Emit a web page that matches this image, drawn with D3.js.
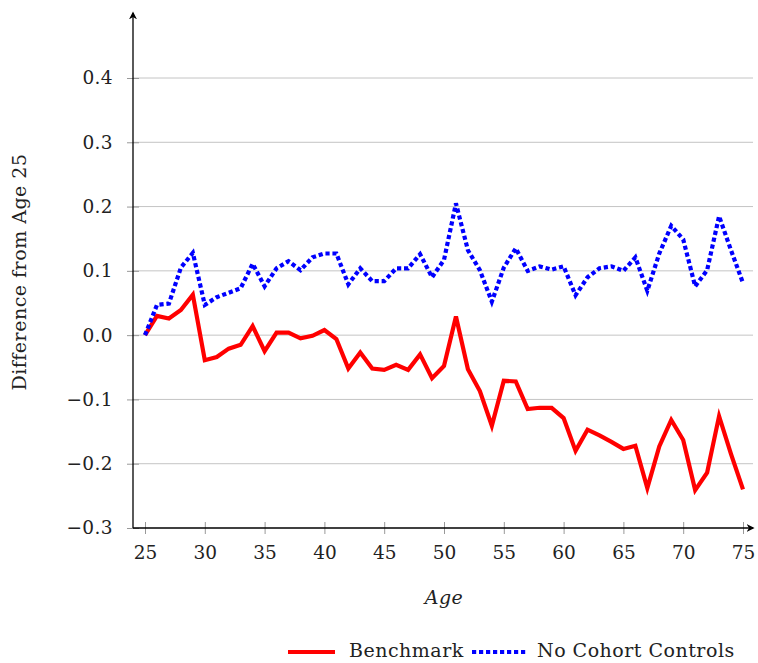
<!DOCTYPE html>
<html>
<head>
<meta charset="utf-8">
<script src="https://cdn.jsdelivr.net/npm/d3@7"></script>
<style>
  body { margin: 0; background: #fff; }
  text { font-family: "DejaVu Serif", serif; fill: #222; }
</style>
</head>
<body>
<svg></svg>
<script>
var ages = d3.range(25, 76);

var benchmark = [0.0, 0.03, 0.026, 0.039, 0.063, -0.039, -0.034, -0.021, -0.015, 0.014,
    -0.025, 0.004, 0.004, -0.005, -0.001, 0.008, -0.006, -0.052, -0.027, -0.052,
    -0.054, -0.046, -0.054, -0.03, -0.067, -0.048, 0.029, -0.053, -0.087, -0.141,
    -0.071, -0.072, -0.115, -0.113, -0.113, -0.129, -0.18, -0.147, -0.156, -0.166,
    -0.177, -0.172, -0.238, -0.173, -0.132, -0.163, -0.241, -0.214, -0.126, -0.185,
    -0.24];

var noCohort = [0.0, 0.047, 0.049, 0.105, 0.128, 0.047, 0.059, 0.066, 0.073, 0.111,
    0.076, 0.104, 0.115, 0.101, 0.121, 0.127, 0.127, 0.079, 0.104, 0.084,
    0.084, 0.104, 0.104, 0.126, 0.09, 0.117, 0.205, 0.132, 0.101, 0.052,
    0.105, 0.135, 0.1, 0.107, 0.102, 0.107, 0.062, 0.09, 0.104, 0.107,
    0.1, 0.121, 0.069, 0.127, 0.17, 0.149, 0.076, 0.101, 0.185, 0.132,
    0.081];

var xTicks = [25, 30, 35, 40, 45, 50, 55, 60, 65, 70, 75];
var yTicks = [-0.3, -0.2, -0.1, 0.0, 0.1, 0.2, 0.3, 0.4];

var screen = {width: 758, height: 663};
var axisLeft = 133, axisRight = 753, axisBottom = 528, axisTop = 13;

var svg = d3.select("svg")
    .attr("width", screen.width)
    .attr("height", screen.height);

var xScale = d3.scaleLinear()
    .domain([25, 75])
    .range([145, 743]);

var yScale = d3.scaleLinear()
    .domain([-0.3, 0.4])
    .range([528, 78]);

// grid lines
svg.append("g")
    .selectAll("line")
    .data(yTicks.filter(function(d){ return d > -0.3; }))
    .enter()
    .append("line")
    .attr("x1", axisLeft)
    .attr("x2", axisRight)
    .attr("y1", function(d){ return yScale(d); })
    .attr("y2", function(d){ return yScale(d); })
    .attr("stroke", "#c4c4c4")
    .attr("stroke-width", 1);

// y ticks + labels
var yAxis = d3.axisLeft(yScale)
    .tickValues(yTicks)
    .tickSize(0)
    .tickPadding(20)
    .tickFormat(function(d){ return d < 0 ? "\u2212" + d3.format(".1f")(-d) : d3.format(".1f")(d); });

var yg = svg.append("g")
    .attr("transform", "translate(" + axisLeft + ",0)")
    .call(yAxis);
yg.select(".domain").remove();
yg.selectAll("text")
    .style("font-size", "18.5px")
    .style("font-family", "DejaVu Serif")
    .style("letter-spacing", "0.4px")
    .attr("fill", "#222");
yg.selectAll(".tick")
    .append("line")
    .attr("x1", -6).attr("x2", 6)
    .attr("stroke", "#999");

// x ticks + labels
var xAxis = d3.axisBottom(xScale)
    .tickValues(xTicks)
    .tickSize(0)
    .tickPadding(18);

var xg = svg.append("g")
    .attr("transform", "translate(0," + axisBottom + ")")
    .call(xAxis);
xg.select(".domain").remove();
xg.selectAll("text")
    .style("font-size", "18.5px")
    .style("font-family", "DejaVu Serif")
    .attr("fill", "#222");
xg.selectAll(".tick")
    .append("line")
    .attr("y1", -6).attr("y2", 6)
    .attr("stroke", "#999");

// lines
var line = d3.line()
    .x(function(d, i){ return xScale(ages[i]); })
    .y(function(d){ return yScale(d); });

svg.append("path")
    .datum(benchmark)
    .attr("fill", "none")
    .attr("stroke", "#ff0000")
    .attr("stroke-width", 4.2)
    .attr("stroke-linejoin", "miter")
    .attr("d", line);

svg.append("path")
    .datum(noCohort)
    .attr("fill", "none")
    .attr("stroke", "#0000ff")
    .attr("stroke-width", 4.2)
    .attr("stroke-dasharray", "4.2,2.8")
    .attr("d", line);

// axis lines with arrows
var defs = svg.append("defs");
defs.append("marker")
    .attr("id", "arrow")
    .attr("viewBox", "0 0 10 10")
    .attr("refX", 8).attr("refY", 5)
    .attr("markerWidth", 8).attr("markerHeight", 8)
    .attr("markerUnits", "userSpaceOnUse")
    .attr("orient", "auto")
    .append("path")
    .attr("d", "M0,0 L10,5 L0,10 L3,5 Z")
    .attr("fill", "#000");

svg.append("line")
    .attr("x1", axisLeft).attr("x2", axisLeft)
    .attr("y1", axisBottom).attr("y2", axisTop)
    .attr("stroke", "#000").attr("stroke-width", 1.3)
    .attr("marker-end", "url(#arrow)");

svg.append("line")
    .attr("x1", axisLeft).attr("x2", axisRight)
    .attr("y1", axisBottom).attr("y2", axisBottom)
    .attr("stroke", "#000").attr("stroke-width", 1.3)
    .attr("marker-end", "url(#arrow)");

// axis titles
svg.append("text")
    .attr("x", 444)
    .attr("y", 604)
    .attr("text-anchor", "middle")
    .style("font-size", "19px")
    .style("font-style", "italic")
    .style("letter-spacing", "0.5px")
    .text("Age");

svg.append("text")
    .attr("transform", "translate(26,272) rotate(-90)")
    .attr("text-anchor", "middle")
    .style("font-size", "19px")
    .style("letter-spacing", "0.5px")
    .text("Difference from Age 25");

// legend
var legend = svg.append("g");
legend.append("line")
    .attr("x1", 288).attr("x2", 335)
    .attr("y1", 652).attr("y2", 652)
    .attr("stroke", "#ff0000").attr("stroke-width", 4.2);
legend.append("text")
    .attr("x", 349).attr("y", 657)
    .style("font-size", "19px")
    .style("letter-spacing", "0.5px")
    .text("Benchmark");
legend.append("line")
    .attr("x1", 472).attr("x2", 528)
    .attr("y1", 652).attr("y2", 652)
    .attr("stroke", "#0000ff").attr("stroke-width", 4.2)
    .attr("stroke-dasharray", "4.2,2.8");
legend.append("text")
    .attr("x", 537).attr("y", 657)
    .style("font-size", "19px")
    .style("letter-spacing", "0.5px")
    .text("No Cohort Controls");
</script>
</body>
</html>
